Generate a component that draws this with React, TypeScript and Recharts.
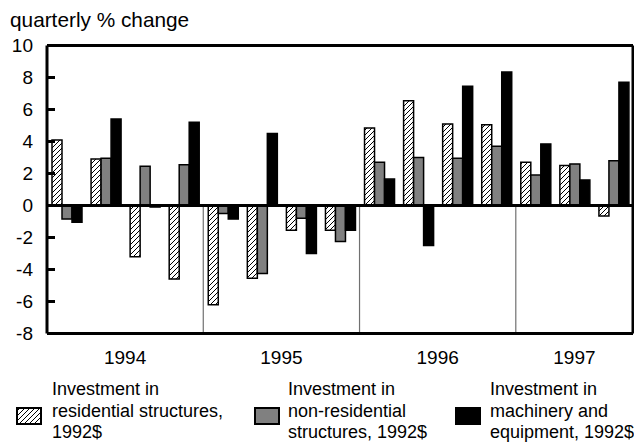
import React from "react";
import {
  BarChart,
  Bar,
  XAxis,
  YAxis,
  ReferenceLine,
} from "recharts";

const quarters = [
  "1994Q1", "1994Q2", "1994Q3", "1994Q4",
  "1995Q1", "1995Q2", "1995Q3", "1995Q4",
  "1996Q1", "1996Q2", "1996Q3", "1996Q4",
  "1997Q1", "1997Q2", "1997Q3",
];
const years = ["1994", "1995", "1996", "1997"];

const residential = [4.1, 2.9, -3.2, -4.6, -6.2, -4.55, -1.55, -1.55, 4.85, 6.55, 5.1, 5.05, 2.7, 2.5, -0.65];
const nonResidential = [-0.85, 2.95, 2.45, 2.55, -0.5, -4.25, -0.8, -2.25, 2.7, 3.0, 2.95, 3.7, 1.9, 2.6, 2.8];
const machinery = [-1.05, 5.4, -0.1, 5.2, -0.85, 4.5, -3.0, -1.55, 1.65, -2.5, 7.45, 8.35, 3.85, 1.6, 7.7];

const yTicks = [-8, -6, -4, -2, 0, 2, 4, 6, 8, 10];
const yearStarts = ["1995Q1", "1996Q1", "1997Q1"];

const legendItems = [
  { key: "res", lines: ["Investment in", "residential structures,", "1992$"] },
  { key: "nonres", lines: ["Investment in", "non-residential", "structures, 1992$"] },
  { key: "mach", lines: ["Investment in", "machinery and", "equipment, 1992$"] },
];

const FONT = "'Liberation Sans', Arial, Helvetica, sans-serif";
const W = 634;
const CHART_H = 370;
const LEFT_W = 47;
const RIGHT_W = 1;
const BAND = (W - LEFT_W - RIGHT_W) / quarters.length;

const data = quarters.map((q, i) => ({
  q,
  res: residential[i],
  nonres: nonResidential[i],
  mach: machinery[i],
}));

// one year label per group, centred under its (possibly partial) group of quarters
function YearTick(props: any) {
  const { x, y, index } = props;
  const yi = Math.floor(index / 4);
  const count = Math.min(4, quarters.length - yi * 4);
  const center = yi * 4 + (count - 1) / 2;
  if (index !== Math.floor(center)) return <g />;
  const shift = (center - Math.floor(center)) * BAND;
  return (
    <text
      x={x + shift}
      y={y}
      dy={22}
      textAnchor="middle"
      fill="#000"
      fontSize={19}
      fontFamily={FONT}
    >
      {years[yi]}
    </text>
  );
}

function Swatch({ kind }: { kind: string }) {
  const fill = kind === "res" ? "url(#hatchLegend)" : kind === "nonres" ? "#808080" : "#000";
  return (
    <svg width={26} height={18} style={{ display: "block" }}>
      <defs>
        <pattern id="hatchLegend" patternUnits="userSpaceOnUse" width={5} height={5}>
          <rect width={5} height={5} fill="#fff" />
          <path d="M-1,1 l2,-2 M0,5 l5,-5 M4,6 l2,-2" stroke="#000" strokeWidth={1} />
        </pattern>
      </defs>
      <rect x={1} y={1} width={24} height={16} fill={fill} stroke="#000" strokeWidth={2} />
    </svg>
  );
}

const legendPos = [
  { swatch: 16, text: 52 },
  { swatch: 254, text: 288 },
  { swatch: 455, text: 490 },
];

export default function App() {
  return (
    <div
      style={{
        position: "absolute",
        left: 0,
        top: 0,
        width: W,
        height: 447,
        background: "#fff",
        fontFamily: FONT,
        color: "#000",
      }}
    >
      <div style={{ position: "absolute", left: 10, top: 10, fontSize: 20.8, lineHeight: "20px" }}>
        quarterly % change
      </div>
      <BarChart
        width={W}
        height={CHART_H}
        data={data}
        margin={{ top: 45.5, right: 0, bottom: 0, left: 0 }}
        barCategoryGap={5}
        barGap={0}
      >
        <defs>
          <pattern id="hatch" patternUnits="userSpaceOnUse" width={5} height={5}>
            <rect width={5} height={5} fill="#fff" />
            <path d="M-1,1 l2,-2 M0,5 l5,-5 M4,6 l2,-2" stroke="#000" strokeWidth={1} />
          </pattern>
        </defs>
        <XAxis
          dataKey="q"
          height={CHART_H - 45.5 - 288}
          interval={0}
          tickLine={false}
          axisLine={{ stroke: "#000", strokeWidth: 3 }}
          tick={<YearTick />}
        />
        <YAxis
          yAxisId="left"
          width={LEFT_W}
          domain={[-8, 10]}
          ticks={yTicks}
          interval={0}
          axisLine={{ stroke: "#000", strokeWidth: 3 }}
          tickLine={{ stroke: "#000", strokeWidth: 3 }}
          tickSize={-8}
          tickMargin={22}
          tick={{ fill: "#000", fontSize: 19, fontFamily: FONT }}
        />
        <YAxis
          yAxisId="right"
          orientation="right"
          width={RIGHT_W}
          domain={[-8, 10]}
          ticks={yTicks}
          interval={0}
          axisLine={{ stroke: "#000", strokeWidth: 3 }}
          tickLine={{ stroke: "#000", strokeWidth: 3 }}
          tickSize={-8}
          tick={false}
        />
        <ReferenceLine yAxisId="left" y={10} stroke="#000" strokeWidth={3} />
        {yearStarts.map((q) => (
          <ReferenceLine
            key={q}
            yAxisId="left"
            segment={[{ x: q, y: 0 }, { x: q, y: -8 }]}
            position="start"
            stroke="#707070"
            strokeWidth={1.2}
          />
        ))}
        <Bar yAxisId="left" dataKey="res" fill="url(#hatch)" stroke="#000" strokeWidth={1.5} isAnimationActive={false} />
        <Bar yAxisId="left" dataKey="nonres" fill="#808080" stroke="#000" strokeWidth={1.5} isAnimationActive={false} />
        <Bar yAxisId="left" dataKey="mach" fill="#000" stroke="#000" strokeWidth={1.5} isAnimationActive={false} />
        <ReferenceLine yAxisId="left" y={0} stroke="#000" strokeWidth={3} />
      </BarChart>
      {legendItems.map((item, i) => (
        <React.Fragment key={item.key}>
          <div style={{ position: "absolute", left: legendPos[i].swatch, top: 407 }}>
            <Swatch kind={item.key} />
          </div>
          <div
            style={{
              position: "absolute",
              left: legendPos[i].text,
              top: 379,
              fontSize: 18,
              lineHeight: "21.5px",
              whiteSpace: "nowrap",
            }}
          >
            {item.lines.map((l) => (
              <div key={l}>{l}</div>
            ))}
          </div>
        </React.Fragment>
      ))}
    </div>
  );
}
